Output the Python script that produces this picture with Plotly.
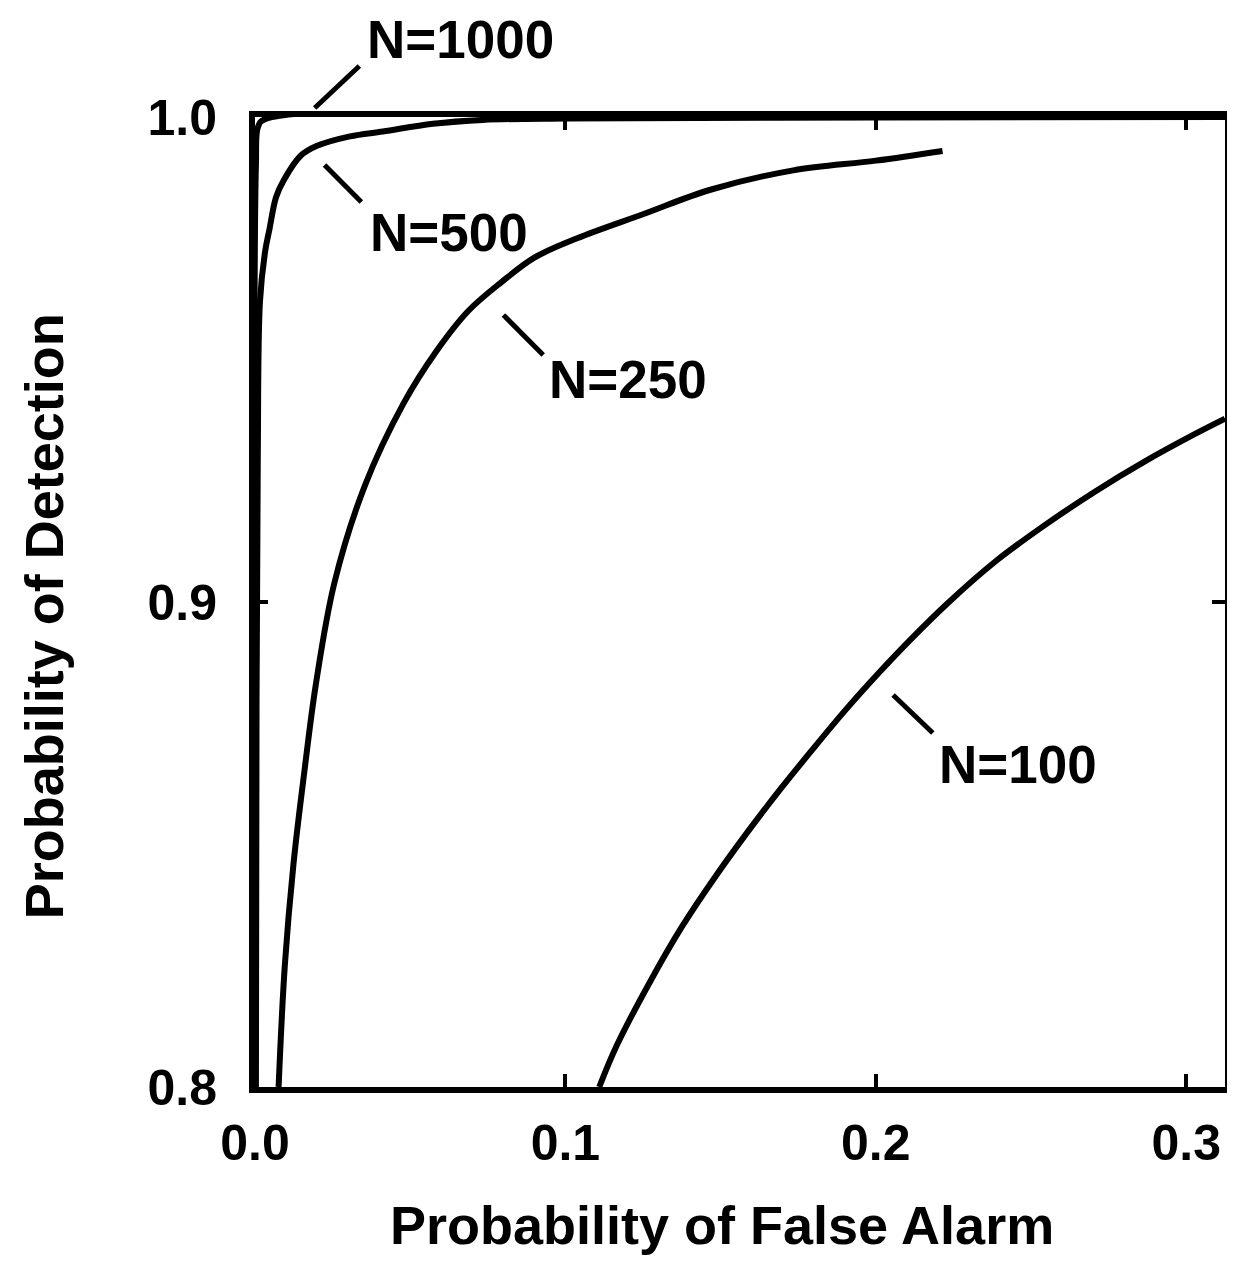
import plotly.graph_objects as go

# ---- data (Probability of False Alarm, Probability of Detection) ----
n1000_x = [0.0, 0.0003, 0.001, 0.003, 0.3125]
n1000_y = [0.800, 0.990, 0.998, 0.9995, 1.000]

n500_x = [0.0003, 0.0005, 0.0009, 0.0016, 0.0032, 0.0047, 0.0068, 0.0093, 0.0147,
          0.0198, 0.0306, 0.0412, 0.0573, 0.0734, 0.100, 0.200, 0.3125]
n500_y = [0.800, 0.880, 0.930, 0.962, 0.972, 0.977, 0.9835, 0.987, 0.992,
          0.994, 0.996, 0.997, 0.9986, 0.9994, 0.9997, 0.9999, 1.000]

n250_x = [0.0076, 0.0096, 0.0124, 0.0159, 0.0196, 0.0256, 0.0354, 0.0479, 0.0582,
          0.0687, 0.0795, 0.0900, 0.1038, 0.1252, 0.1467, 0.1734, 0.2000, 0.2215]
n250_y = [0.800, 0.825, 0.846, 0.865, 0.883, 0.904, 0.924, 0.941, 0.9515,
          0.960, 0.966, 0.971, 0.975, 0.980, 0.985, 0.989, 0.991, 0.993]

n100_x = [0.1109, 0.1165, 0.1271, 0.1375, 0.1479, 0.1586, 0.1690, 0.1795, 0.1902,
          0.2007, 0.2111, 0.2229, 0.2388, 0.2548, 0.2707, 0.2867, 0.3027, 0.3125]
n100_y = [0.800, 0.8085, 0.8215, 0.833, 0.843, 0.8525, 0.8612, 0.8695, 0.8777,
          0.8852, 0.8922, 0.8996, 0.9085, 0.916, 0.9228, 0.929, 0.9346, 0.9378]

x_ticks = [0.0, 0.1, 0.2, 0.3]
x_tick_text = ["0.0", "0.1", "0.2", "0.3"]
y_ticks = [0.8, 0.9, 1.0]
y_tick_text = ["0.8", "0.9", "1.0"]

# curve labels (paper coords of the plot area): text, position, leader line ends
labels = ["N=1000", "N=500", "N=250", "N=100"]
label_x = [0.2121, 0.1998, 0.3842, 0.7869]
label_y = [1.0794, 0.8814, 0.7289, 0.3320]
lead_x0 = [0.0615, 0.0717, 0.2561, 0.6578]
lead_y0 = [1.0093, 0.9505, 0.7959, 0.4041]
lead_x1 = [0.1076, 0.1096, 0.2971, 0.6988]
lead_y1 = [1.0526, 0.9124, 0.7546, 0.3649]

FONT = "Liberation Sans, Arial, sans-serif"

fig = go.Figure()
for xs, ys in [(n1000_x, n1000_y), (n500_x, n500_y), (n250_x, n250_y), (n100_x, n100_y)]:
    fig.add_trace(go.Scatter(x=xs, y=ys, mode="lines",
                             line=dict(color="black", width=6, shape="spline", smoothing=1.0),
                             showlegend=False, hoverinfo="skip"))

for t, lx, ly, x0, y0, x1, y1 in zip(labels, label_x, label_y, lead_x0, lead_y0, lead_x1, lead_y1):
    fig.add_annotation(x=lx, y=ly, xref="paper", yref="paper", text=t, showarrow=False,
                       xanchor="center", yanchor="middle",
                       font=dict(family=FONT, size=53, color="black", weight="bold"))
    fig.add_shape(type="line", xref="paper", yref="paper", x0=x0, y0=y0, x1=x1, y1=y1,
                  line=dict(color="black", width=5))

fig.add_annotation(xref="paper", yref="paper", x=0.4816, y=-0.1423,
                   xanchor="center", yanchor="middle",
                   text="Probability of False Alarm", showarrow=False,
                   font=dict(family=FONT, size=54, color="black", weight="bold"))
fig.add_annotation(xref="paper", yref="paper", x=-0.2172, y=0.4856, textangle=-90,
                   xanchor="center", yanchor="middle",
                   text="Probability of Detection", showarrow=False,
                   font=dict(family=FONT, size=54, color="black", weight="bold"))

axis_common = dict(showline=True, linecolor="black", linewidth=6, mirror="ticks",
                   ticks="inside", ticklen=13, tickwidth=4, tickcolor="black",
                   showgrid=False, zeroline=False,
                   tickfont=dict(family=FONT, size=50, color="black", weight="bold"))

fig.update_xaxes(range=[0, 0.3125], tickvals=x_ticks, ticktext=x_tick_text,
                 ticklabelstandoff=7, **axis_common)
fig.update_yaxes(range=[0.8, 1.0], tickvals=y_ticks, ticktext=y_tick_text,
                 ticklabelstandoff=22, **axis_common)

fig.update_layout(width=1227, height=1255, autosize=False,
                  margin=dict(l=247, r=4, t=109, b=176),
                  paper_bgcolor="white", plot_bgcolor="white")

fig.write_html("out.html")
